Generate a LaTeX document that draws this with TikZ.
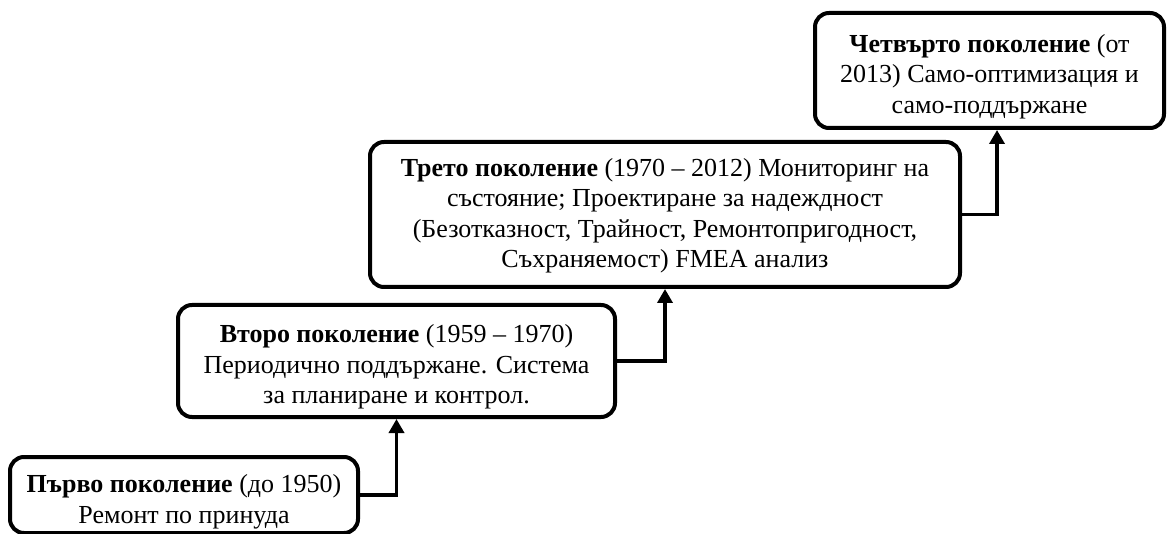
\documentclass[tikz,border=0pt]{standalone}
\usepackage{fontspec}
\setmainfont{Liberation Serif}
\usetikzlibrary{arrows.meta}
\begin{document}
\begin{tikzpicture}[x=1pt,y=-1pt,
  gen/.style={draw, line width=4pt, rounded corners=14pt, inner sep=0pt},
  gentext/.style={align=center, inner sep=0pt, font=\fontsize{26}{30.5}\selectfont},
  link/.style={line width=3.5pt, -{Triangle[length=14pt,width=15pt]}}]
\useasboundingbox (0,0) rectangle (1167,534);
\node[gen, minimum width=348pt, minimum height=76pt] (b1) at (184,495) {};
\node[gentext] (b1t) at ([yshift=-7pt]b1.center)
  {\textbf{Първо поколение} (до 1950)\\Ремонт по принуда};
\node[gen, minimum width=437pt, minimum height=112pt] (b2) at (396.5,361) {};
\node[gentext] (b2t) at ([yshift=-6pt]b2.center)
  {\textbf{Второ поколение} (1959 – 1970)\\Периодично поддържане. Система\\за планиране и контрол.};
\node[gen, minimum width=590pt, minimum height=145pt] (b3) at (665,214.5) {};
\node[gentext] (b3t) at ([yshift=-1pt]b3.center)
  {\textbf{Трето поколение} (1970 – 2012) Мониторинг на\\състояние; Проектиране за надеждност\\(Безотказност, Трайност, Ремонтопригодност,\\Съхраняемост) FMEA анализ};
\node[gen, minimum width=349pt, minimum height=115pt] (b4) at (989.5,70.5) {};
\node[gentext] (b4t) at ([yshift=-6pt]b4.center)
  {\textbf{Четвърто поколение} (от\\2013) Само-оптимизация и\\само-поддържане};
\draw[link] (b1.east) -| (b2.south);
\draw[link] (b2.east) -| (b3.south);
\coordinate (t4) at ([xshift=7.5pt]b4.south);
\draw[link] (b3.east) -| (t4);
\end{tikzpicture}
\end{document}
